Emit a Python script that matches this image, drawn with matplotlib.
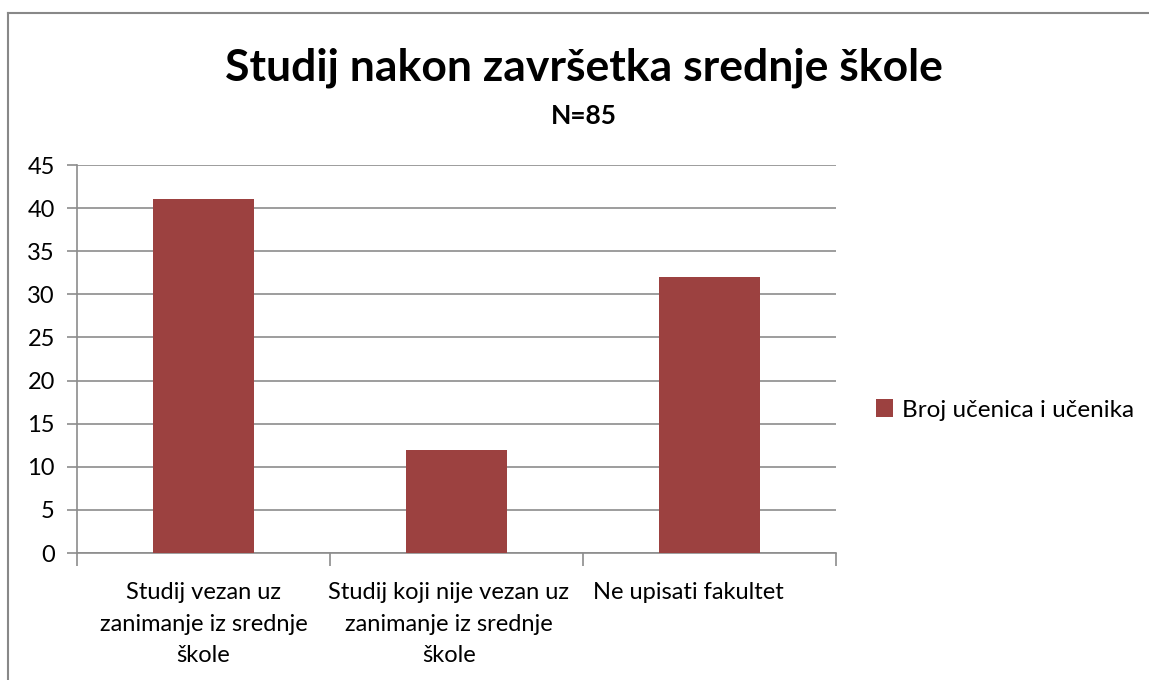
import matplotlib.pyplot as plt
from matplotlib.lines import Line2D
import numpy as np

categories = ["Studij vezan uz\nzanimanje iz srednje\nškole",
              "Studij koji nije vezan uz\nzanimanje iz srednje\nškole",
              "Ne upisati fakultet"]
values = [41, 12, 32]
series_name = "Broj učenica i učenika"
yticks = [0, 5, 10, 15, 20, 25, 30, 35, 40, 45]

plt.rcParams['font.family'] = ['Lato', 'DejaVu Sans']

W, H = 1149, 680
fig = plt.figure(figsize=(W / 100, H / 100), dpi=100)

# outer chart frame (only top and left visible in the crop)
frame_c = '#888888'
fig.add_artist(Line2D([8 / W, 1.0], [1 - 13 / H, 1 - 13 / H],
                      transform=fig.transFigure, color=frame_c, lw=1.5))
fig.add_artist(Line2D([8 / W, 8 / W], [0, 1 - 13 / H],
                      transform=fig.transFigure, color=frame_c, lw=1.5))

ax = fig.add_axes([77 / W, (H - 553) / H, (836 - 77) / W, (553 - 165) / H])
x = np.arange(len(values))
bar_color = '#9c4140'
ax.bar(x, values, width=0.4, color=bar_color, zorder=3, label=series_name)

ax.set_xlim(-0.5, 2.5)
ax.set_ylim(0, 45)
ax.set_yticks(yticks)
ax.yaxis.grid(True, color='#8c8c8c', lw=1.2, zorder=0)
for s in ['top', 'right']:
    ax.spines[s].set_visible(False)
for s in ['left', 'bottom']:
    ax.spines[s].set_color('#8c8c8c')
    ax.spines[s].set_linewidth(1.2)
ax.tick_params(axis='y', length=7, width=1.2, color='#8c8c8c', labelsize=17, pad=9)

# category boundary ticks
ax.set_xticks([-0.5, 0.5, 1.5, 2.5])
ax.set_xticklabels([])
ax.tick_params(axis='x', length=9, width=1.2, color='#8c8c8c')
label_shift = [0.0, -0.03, -0.085]
for i, lab in enumerate(categories):
    ax.text(i + label_shift[i], -3.4, lab, ha='center', va='top', fontsize=17,
            linespacing=1.62)

fig.text(584 / W, 1 - 68 / H, "Studij nakon završetka srednje škole",
         ha='center', va='center', fontsize=32, fontweight='bold')
fig.text(584 / W, 1 - 116 / H, "N=85", ha='center', va='center',
         fontsize=19, fontweight='bold')

ax.legend(loc='center left', bbox_to_anchor=(876 / W, 1 - 410 / H),
          bbox_transform=fig.transFigure, frameon=False, fontsize=17.5,
          handlelength=0.7, handleheight=0.7, handletextpad=0.35,
          borderpad=0, borderaxespad=0)

fig.savefig("out.png", dpi=100)
